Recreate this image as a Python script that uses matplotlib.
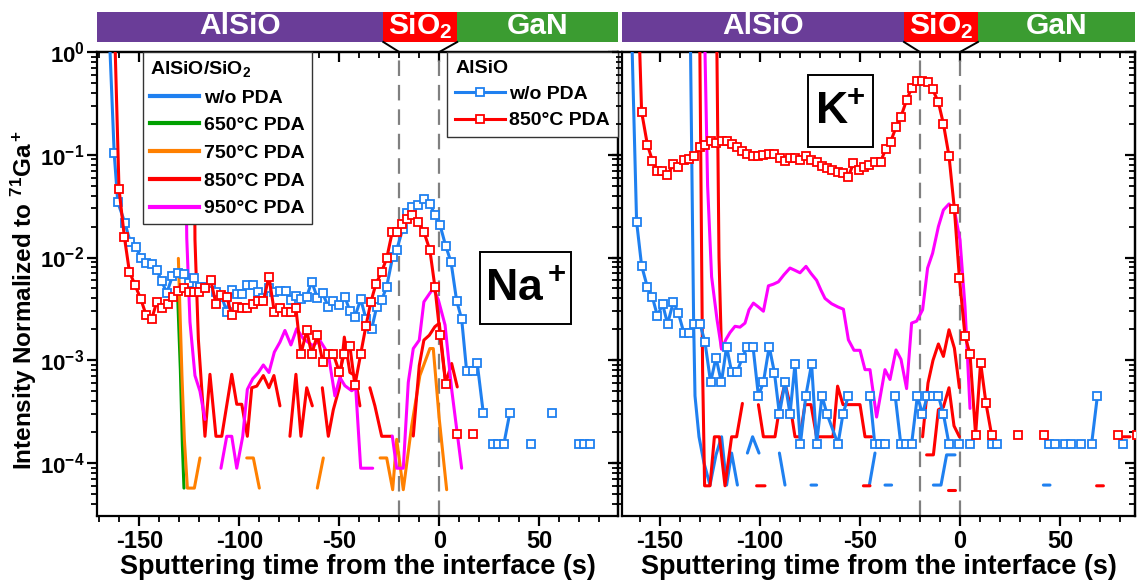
import numpy as np
import matplotlib
matplotlib.use("Agg")
import matplotlib.pyplot as plt
import matplotlib.transforms as mtrans
from matplotlib import font_manager
from matplotlib.lines import Line2D
from matplotlib.patches import Rectangle
from matplotlib.ticker import MultipleLocator, LogLocator, FuncFormatter, NullFormatter, FixedLocator

nan = np.nan

# ---------------- Na+ panel ----------------
# AlSiO, w/o PDA (squares)
na_alsio_wo_t = [-165.3, -162.6, -160.8, -157.2, -154.5, -151.8, -149.3, -146.5, -143.9, -141.3,
                 -138.8, -136.3, -133.5, -130.7, -127.9, -125.2, -122.5, -119.7, -117.2, -114.3,
                 -111.7, -108.8, -106.3, -103.8, -101.3, -98.5, -96.0, -93.3, -90.5, -88.0,
                 -85.2, -82.5, -79.7, -76.7, -74.2, -71.7, -69.2, -66.3, -63.8, -61.0,
                 -58.3, -55.5, -53.0, -50.0, -47.2, -44.7, -42.2, -39.3, -36.7, -33.8,
                 -31.3, -28.8, -26.3, -23.3, -21.3, -18.3, -16.0, -13.5, -10.5, -7.7,
                 -4.7, -2.2, 0.4, 3.2, 5.9, 8.7, 11.2, 13.7, 17.0, 19.0,
                 22.0, 24.5, 27.0, 29.5, 32.3, 35.3, 40.0, 45.9, 51.0, 56.5,
                 63.0, 70.0, 72.5, 75.3]
na_alsio_wo = [2.0, 0.103, 0.0345, 0.0216, 0.014, 0.0127, 0.0100, 0.0088, 0.0086, 0.0075,
               0.0059, 0.0045, 0.0066, 0.0071, 0.0069, 0.0056, 0.0063, 0.0052, 0.0052, 0.0056,
               0.00464, 0.00415, 0.00296, 0.00482, 0.00437, 0.00437, 0.0054, 0.0054, 0.00464, 0.00406,
               0.00501, 0.00464, 0.00471, 0.00471, 0.00385, 0.00424, 0.00391, 0.00415, 0.00582, 0.00406,
               0.00447, 0.00331, 0.00376, 0.00343, 0.00415, 0.0030, 0.00264, 0.00394, 0.00254, 0.00203,
               0.00331, 0.00385, 0.0052, 0.0102, 0.0119, 0.0189, 0.0272, 0.0313, 0.0325, 0.0368,
               0.033, 0.0262, 0.0206, 0.013, 0.009, 0.00378, 0.00252, 0.00078, 0.00078, 0.00093,
               0.000308, nan, 0.000153, 0.000153, 0.000153, 0.000308, nan, 0.000153, nan, 0.000308,
               nan, 0.000153, 0.000153, 0.000153]

# AlSiO, 850C PDA (squares)
na_alsio_850_t = [-162.5, -160.2, -157.5, -155.0, -152.2, -149.3, -146.7, -143.8, -141.3, -138.5,
                  -135.8, -133.3, -130.5, -127.7, -125.2, -122.5, -120.0, -117.2, -114.3, -111.7,
                  -109.2, -106.3, -103.8, -101.3, -98.5, -96.0, -93.0, -90.5, -88.0, -85.2,
                  -82.5, -79.7, -76.7, -74.2, -71.7, -69.2, -66.3, -63.8, -61.0, -58.3,
                  -55.8, -53.0, -50.0, -47.5, -44.7, -42.2, -39.3, -36.7, -34.2, -31.7,
                  -28.8, -26.3, -23.5, -21.0, -18.8, -16.0, -13.5, -10.5, -7.7, -4.7,
                  -2.2, 0.4, 3.2, 5.9, 8.7, 12.7, 16.7]
na_alsio_850 = [2.0, 0.0467, 0.0158, 0.0073, 0.0054, 0.00394, 0.00278, 0.00254, 0.0037, 0.00319,
                0.00356, 0.00415, 0.00471, 0.00508, 0.00464, 0.00464, 0.0046, 0.005, 0.006, 0.00356,
                0.0043, 0.00415, 0.00274, 0.00331, 0.00319, 0.00319, 0.00356, 0.00376, 0.00376, 0.00652,
                0.00296, 0.00319, 0.00296, 0.00296, 0.00319, 0.00115, 0.00195, 0.00115, 0.00175, 0.00097,
                0.00115, 0.00115, 0.00077, 0.00115, 0.00137, 0.00057, 0.00115, 0.00215, 0.0037, 0.00552,
                0.0073, 0.0098, 0.0178, 0.0178, 0.0213, 0.0238, 0.0258, 0.0221, 0.0178, 0.0118,
                0.0052, 0.00176, 0.000587, nan, 0.000192, nan, 0.000192]

# AlSiO/SiO2 stacks (lines only)
na_650_t = [-131.0, -129.5, -128.5, -127.7]
na_650 = [0.005, 0.0008, 0.00015, 5.7e-5]

na_750_t = [-130.5, -128.7, -127.5, -126.0, -122.5, -119.7, -108.0, -96.3, -93.0, -90.0,
            -75.0, -61.0, -58.0, -40.0, -29.6, -26.3, -23.3, -21.3, -18.0, -13.8,
            -9.7, -4.7, -3.0, 0.0, 3.7]
na_750 = [0.0098, 0.0007, 1.7e-4, 5.7e-5, 5.7e-5, 1.12e-4, nan, 1.12e-4, 1.12e-4, 5.7e-5,
          nan, 5.7e-5, 1.12e-4, nan, 1.12e-4, 1.12e-4, 5.5e-5, 1.7e-4, 5.5e-5, 2.3e-4,
          7.1e-4, 0.0013, 0.0013, 2.67e-4, 5.5e-5]

na_850_t = [-122.8, -122.2, -120.5, -117.2, -114.7, -111.7, -108.8, -103.8, -101.3, -98.8,
            -96.0, -93.8, -91.3, -88.0, -85.2, -82.7, -79.7, -77.0, -74.7, -71.7,
            -69.2, -66.3, -63.5, -61.0, -58.5, -55.5, -53.0, -50.0, -47.5, -44.7,
            -42.2, -39.7, -37.0, -34.7, -32.2, -28.8, -26.3, -23.8, -18.0, -13.0,
            -10.0, -7.7, -5.0, -2.2, 0.0, 3.2, 6.2, 9.0]
na_850 = [2.0, 0.015, 0.0016, 1.82e-4, 7.3e-4, 1.82e-4, 1.82e-4, 7.3e-4, 3.73e-4, 3.73e-4,
          1.82e-4, 5.4e-4, 5.6e-4, 7.1e-4, 5.4e-4, 7.1e-4, 3.6e-4, nan, 1.82e-4, 7.3e-4,
          1.82e-4, 5.4e-4, 3.6e-4, nan, 5.4e-4, 1.82e-4, 3.3e-4, 5.4e-4, 0.00168, 7.6e-4,
          7.1e-4, 3.6e-4, nan, 5.4e-4, 3.6e-4, 1.82e-4, 1.82e-4, 1.82e-4, nan, 1.83e-4,
          8.9e-4, 0.00157, 0.00175, 0.00212, 0.00229, 6.0e-4, 9.3e-4, 5.5e-4]

na_950_t = [-127.6, -126.3, -124.7, -122.2, -119.7, -117.2, -113.0, -109.2, -106.3, -103.8,
            -101.3, -98.3, -96.0, -93.3, -90.5, -88.0, -85.2, -82.5, -79.7, -77.2,
            -74.2, -71.3, -68.0, -63.3, -59.7, -55.5, -52.2, -49.7, -47.2, -43.8,
            -41.8, -39.3, -33.3, -28.0, -23.5, -21.3, -18.0, -15.5, -13.0, -10.0,
            -7.7, -4.7, -3.0, -0.5, 2.9, 6.2, 11.2]
na_950 = [2.0, 0.0155, 0.00236, 7.1e-4, 5.0e-4, 2.66e-4, nan, 8.9e-5, 1.82e-4, 1.82e-4,
          8.9e-5, 1.82e-4, 5.2e-4, 6.6e-4, 7.6e-4, 9.0e-4, 7.6e-4, 0.0012, 0.0015, 0.00195,
          0.00141, 0.00203, 0.00162, 0.00139, 0.00156, 0.00115, 4.5e-4, 6.8e-4, 5.65e-4, 5.05e-4,
          5.4e-4, 8.9e-5, 8.9e-5, nan, 1.83e-4, 8.9e-5, 8.9e-5, 6.1e-4, 0.0013, 0.00157,
          0.0037, 0.0045, 0.005, 0.0039, 0.0022, 5.2e-4, 8.9e-5]

# ---------------- K+ panel ----------------
k_alsio_850_t = [-160.6, -159.2, -156.3, -153.8, -151.3, -148.8, -146.3, -143.3, -140.8, -138.0,
                 -135.5, -132.8, -130.0, -127.5, -124.5, -122.0, -119.2, -116.7, -114.2, -111.3,
                 -108.8, -106.3, -103.7, -100.8, -98.3, -95.5, -92.8, -90.0, -87.5, -85.0,
                 -82.5, -80.0, -77.0, -74.5, -71.7, -69.2, -66.3, -63.8, -61.2, -58.3,
                 -55.8, -53.3, -50.5, -47.8, -45.3, -42.5, -39.7, -37.2, -34.7, -32.0,
                 -29.5, -26.7, -24.2, -21.7, -18.8, -16.2, -13.7, -10.8, -8.3, -5.5,
                 -2.8, -0.3, 2.5, 5.0, 7.8, 10.3, 13.0, 15.8, 22.0, 28.8,
                 35.0, 42.0, 60.0, 78.8, 84.0, 88.3]
k_alsio_850 = [2.0, 0.262, 0.125, 0.0877, 0.0696, 0.0696, 0.0636, 0.0808, 0.0767, 0.089,
               0.091, 0.098, 0.12, 0.125, 0.137, 0.129, 0.137, 0.137, 0.127, 0.118,
               0.109, 0.102, 0.098, 0.098, 0.099, 0.102, 0.102, 0.0925, 0.0877, 0.0925,
               0.0925, 0.089, 0.098, 0.089, 0.0857, 0.0783, 0.0738, 0.0711, 0.0674, 0.067,
               0.0612, 0.0826, 0.0711, 0.0767, 0.079, 0.0857, 0.0857, 0.113, 0.134, 0.185,
               0.235, 0.341, 0.443, 0.522, 0.525, 0.507, 0.434, 0.324, 0.2, 0.0973,
               0.0295, 0.0063, 0.00173, 0.00115, 1.88e-4, 9.5e-4, 3.8e-4, 1.88e-4, nan, 1.88e-4,
               nan, 1.88e-4, nan, 1.88e-4, nan, 1.88e-4]

k_alsio_wo_t = [-164.3, -161.7, -159.2, -156.3, -153.8, -151.3, -148.7, -146.2, -143.3, -140.8,
                -138.0, -135.5, -132.8, -130.0, -127.5, -124.7, -122.0, -119.3, -116.7, -114.2,
                -111.5, -108.8, -106.3, -103.5, -100.8, -98.3, -95.4, -92.8, -90.3, -87.5,
                -85.0, -82.5, -79.8, -77.1, -74.2, -71.7, -69.0, -66.5, -61.0, -58.5,
                -55.8, -50.0, -45.0, -42.6, -40.0, -37.4, -35.0, -32.4, -29.6, -26.8,
                -24.2, -21.3, -18.8, -16.3, -13.3, -10.8, -8.3, -5.5, -3.0, -0.3,
                2.5, 5.0, 10.0, 15.8, 18.3, 30.0, 44.7, 47.5, 50.0, 52.5,
                55.3, 58.0, 60.5, 63.0, 65.8, 68.7, 75.0, 81.7]
k_alsio_wo = [2.0, 0.0223, 0.00834, 0.00514, 0.00411, 0.0027, 0.00351, 0.00226, 0.00372, 0.00287,
              0.00183, 0.00183, 0.00226, 0.00226, 0.0015, 6.1e-4, 0.00106, 6.1e-4, 0.00136, 7.7e-4,
              7.7e-4, 0.00106, 0.00136, 0.00136, 4.5e-4, 6.1e-4, 0.00136, 7.6e-4, 3.0e-4, 6.1e-4,
              3.0e-4, 9.2e-4, 1.53e-4, 4.5e-4, 9.2e-4, 1.53e-4, 4.5e-4, 3.0e-4, 1.53e-4, 3.0e-4,
              4.5e-4, nan, 4.5e-4, 1.53e-4, 1.53e-4, 1.53e-4, nan, 4.5e-4, 1.53e-4, 1.53e-4,
              1.53e-4, 4.5e-4, 3.0e-4, 4.5e-4, 4.5e-4, 4.5e-4, 3.0e-4, 1.53e-4, nan, 1.53e-4,
              nan, 1.53e-4, nan, 1.53e-4, 1.53e-4, nan, 1.53e-4, 1.53e-4, nan, 1.53e-4,
              1.53e-4, nan, 1.53e-4, nan, 1.53e-4, 4.5e-4, nan, 1.53e-4]

k_wo_t = [-134.9, -133.2, -132.5, -130.5, -128.0, -125.0, -122.0, -119.2, -116.7, -114.2,
          -111.3, -109.0, -106.3, -103.7, -100.5, -95.0, -90.3, -87.5, -80.0, -74.5,
          -71.7, -60.0, -45.3, -42.5, -40.0, -37.5, -34.2, -20.0, -13.3, -9.5,
          -6.7, -2.5, 20.0, 41.7, 45.0]
k_wo = [2.0, 0.0025, 4.5e-4, 1.8e-4, 1.0e-4, 6.1e-5, 1.2e-4, 1.8e-4, 6.1e-5, 1.25e-4,
        6.1e-5, nan, 1.25e-4, 1.8e-4, 1.25e-4, nan, 1.25e-4, 6.1e-5, nan, 6.1e-5,
        6.1e-5, nan, 6.1e-5, 1.25e-4, nan, 6.1e-5, 6.1e-5, nan, 6.1e-5, 6.1e-5,
        1.2e-4, 1.2e-4, nan, 6.1e-5, 6.1e-5]

k_850_t = [-130.2, -128.7, -127.7, -125.0, -122.8, -120.3, -117.5, -114.2, -111.7, -108.8,
           -105.0, -100.8, -98.3, -92.5, -90.0, -87.5, -85.0, -82.5, -80.0, -77.5,
           -74.5, -71.7, -69.2, -66.5, -63.5, -61.2, -58.5, -55.0, -50.0, -47.5,
           -44.2, -30.0, -18.7, -16.0, -13.5, -10.8, -8.3, -5.5, -2.8, -0.3]
k_850 = [2.0, 8e-4, 6e-5, 6e-5, 1.8e-4, 1.8e-4, 6e-5, 1.8e-4, 1.8e-4, 3.8e-4,
         nan, 3.7e-4, 1.8e-4, 1.8e-4, 3.7e-4, 6e-4, 3.7e-4, 1.8e-4, 1.8e-4, 3.7e-4,
         3.7e-4, 1.8e-4, 1.8e-4, 1.8e-4, 1.8e-4, 5.6e-4, 3.7e-4, 3.7e-4, 3.7e-4, 1.8e-4,
         1.8e-4, nan, 1.8e-4, 6e-4, 0.001, 0.00144, 0.00109, 0.00198, 0.00131, 5.4e-4]

k_850b_t = [-121.7, -120.5, -119.3, -110.0, -101.7, -97.5, -70.0, -48.3, -45.0, -30.0,
            -16.7, -13.3, -10.8, -8.3, -5.5, -3.0, -0.3, 30.0, 68.3, 71.7,
            76.0, 81.7, 85.0]
k_850b = [2.0, 0.01, 0.0013, nan, 6e-5, 6e-5, nan, 6e-5, 6e-5, nan,
          1.2e-4, 1.2e-4, 3.3e-4, 3.5e-4, 5.4e-4, 2.3e-4, 1.8e-4, nan, 6e-5, 6e-5,
          nan, 1.8e-4, 1.8e-4]
k_850c_t = [-5.8, -2.5]
k_850c = [5.5e-5, 5.5e-5]

k_950_t = [-127.8, -126.2, -124.2, -121.5, -119.2, -117.0, -115.0, -112.5, -110.0, -107.5,
           -105.5, -103.3, -100.8, -98.3, -95.8, -93.3, -90.8, -88.0, -85.0, -82.5,
           -80.0, -77.0, -74.5, -71.7, -69.5, -67.5, -64.2, -61.0, -58.3, -55.8,
           -53.0, -50.0, -47.5, -45.0, -41.7, -37.5, -35.0, -32.0, -29.5, -26.7,
           -24.2, -21.7, -18.7, -16.2, -13.7, -10.8, -8.3, -5.5, -2.8, 0.0,
           2.5, 5.0]
k_950 = [2.0, 0.05, 0.0065, 0.0025, 0.00128, 0.0016, 0.00186, 0.00214, 0.0021, 0.0023,
         0.0031, 0.0036, 0.0033, 0.0030, 0.0053, 0.0055, 0.0058, 0.0068, 0.0079, 0.0075,
         0.0071, 0.0082, 0.007, 0.006, 0.0048, 0.004, 0.00355, 0.0033, 0.00314, 0.00158,
         0.00125, 0.00125, 8.1e-4, 8.1e-4, 2.8e-4, 8.1e-4, 6.5e-4, 0.00126, 0.00102, 5.3e-4,
         0.0023, 0.0024, 0.0031, 0.0079, 0.011, 0.02, 0.029, 0.0332, 0.029, 0.0148,
         0.00333, 3.4e-4]

# layer boundaries (s) and labels
band_edges = [-28.0, 9.0]
interfaces = [-20.0, 0.0]
x_ticks = [-150, -100, -50, 0, 50]
x_ticklabels = ['-150', '-100', '-50', '0', '50']

BLUE = '#1f80f0'
RED = '#ff0000'
GREEN = '#00a000'
ORANGE = '#ff8000'
MAGENTA = '#ff00ff'
PURPLE = '#6a3d98'
BAND_GREEN = '#3b9c31'

avail = {f.name for f in font_manager.fontManager.ttflist}
NARROW = 'Liberation Sans Narrow' if 'Liberation Sans Narrow' in avail else 'Liberation Sans'

plt.rcParams['font.family'] = ['Liberation Sans', 'DejaVu Sans']
plt.rcParams['font.weight'] = 'bold'
plt.rcParams['axes.labelweight'] = 'bold'
plt.rcParams['mathtext.fontset'] = 'custom'
plt.rcParams['mathtext.rm'] = NARROW + ':bold'
plt.rcParams['mathtext.bf'] = NARROW + ':bold'
plt.rcParams['mathtext.it'] = NARROW + ':bold'
plt.rcParams['axes.unicode_minus'] = False

W, H = 1137, 583
fig = plt.figure(figsize=(W / 100, H / 100), dpi=100)
axL = fig.add_axes([97 / W, 67 / H, 521 / W, 464 / H])
axR = fig.add_axes([622 / W, 67 / H, 513 / W, 464 / H])

LW = 2.2


def arr(v):
    return np.array(v, dtype=float)


def line(ax, t, y, c):
    ax.plot(arr(t), arr(y), color=c, lw=LW, solid_capstyle='round', zorder=3)


def marks(ax, t, y, c):
    ax.plot(arr(t), arr(y), color=c, lw=LW, marker='s', ms=5.8, mfc='white',
            mec=c, mew=1.3, zorder=4)


# Na panel
line(axL, na_650_t, na_650, GREEN)
line(axL, na_750_t, na_750, ORANGE)
line(axL, na_850_t, na_850, RED)
line(axL, na_950_t, na_950, MAGENTA)
marks(axL, na_alsio_wo_t, na_alsio_wo, BLUE)
marks(axL, na_alsio_850_t, na_alsio_850, RED)

# K panel
line(axR, k_wo_t, k_wo, BLUE)
line(axR, k_850_t, k_850, RED)
line(axR, k_850b_t, k_850b, RED)
line(axR, k_850c_t, k_850c, RED)
line(axR, k_950_t, k_950, MAGENTA)
marks(axR, k_alsio_wo_t, k_alsio_wo, BLUE)
marks(axR, k_alsio_850_t, k_alsio_850, RED)

limsx = {axL: (-171.2, 89.4), axR: (-169.0, 87.5)}
fmt = FuncFormatter(lambda v, p: r'$\mathbf{10^{%d}}$' % round(np.log10(v)))

for ax in (axL, axR):
    ax.set_yscale('log')
    ax.set_ylim(3.05e-5, 1.0)
    ax.set_xlim(*limsx[ax])
    for x in interfaces:
        ax.axvline(x, color='#808080', lw=1.6, ls=(0, (7, 4)), zorder=2)
    for s in ax.spines.values():
        s.set_linewidth(1.6)
    ax.set_xticks(x_ticks, labels=x_ticklabels, fontfamily=NARROW, fontweight='bold')
    ax.xaxis.set_minor_locator(MultipleLocator(10))
    ax.yaxis.set_major_locator(LogLocator(base=10, numticks=10))
    ax.yaxis.set_minor_locator(LogLocator(base=10, subs=np.arange(2, 10), numticks=10))
    ax.yaxis.set_major_formatter(fmt)
    ax.yaxis.set_minor_formatter(NullFormatter())
    ax.tick_params(which='major', direction='out', length=7, width=1.6, labelsize=17, pad=3)
    ax.tick_params(axis='y', which='major', labelsize=16, pad=2)
    ax.tick_params(which='minor', direction='out', length=4, width=1.3)
    ax.set_xlabel('Sputtering time from the interface (s)', fontsize=19.5,
                  fontweight='bold', labelpad=1)

    top = ax.secondary_xaxis('top')
    top.xaxis.set_major_locator(FixedLocator(x_ticks))
    top.xaxis.set_minor_locator(MultipleLocator(10))
    top.xaxis.set_major_formatter(NullFormatter())
    top.tick_params(which='major', direction='in', length=7, width=1.6)
    top.tick_params(which='minor', direction='in', length=4, width=1.3)
    top.spines['top'].set_linewidth(1.6)
    right = ax.secondary_yaxis('right')
    right.yaxis.set_major_locator(LogLocator(base=10, numticks=10))
    right.yaxis.set_minor_locator(LogLocator(base=10, subs=np.arange(2, 10), numticks=10))
    right.yaxis.set_major_formatter(NullFormatter())
    right.yaxis.set_minor_formatter(NullFormatter())
    right.tick_params(which='major', direction='in', length=7, width=1.6)
    right.tick_params(which='minor', direction='in', length=4, width=1.3)
    right.spines['right'].set_linewidth(1.6)

    # layer bands above the axes
    tr = mtrans.blended_transform_factory(ax.transData, ax.transAxes)
    x0, x1 = limsx[ax]
    y0, h = 1.0216, 0.065
    segs = [(x0, band_edges[0], PURPLE, 'AlSiO'),
            (band_edges[0], band_edges[1], RED, 'SiO$_2$'),
            (band_edges[1], x1, BAND_GREEN, 'GaN')]
    for a, b, c, lab in segs:
        ax.add_patch(Rectangle((a, y0), b - a, h, transform=tr, facecolor=c,
                               edgecolor='none', clip_on=False, zorder=5))
        ax.text((a + b) / 2, y0 + h / 2 + 0.003, lab, transform=tr, ha='center',
                va='center', color='white', fontsize=21.5, clip_on=False, zorder=6)
    ax.plot([band_edges[0], interfaces[0]], [y0, 1.0], transform=tr, color='k',
            lw=1.4, clip_on=False, zorder=6)
    ax.plot([band_edges[1], interfaces[1]], [y0, 1.0], transform=tr, color='k',
            lw=1.4, clip_on=False, zorder=6)

axR.tick_params(axis='y', which='both', labelleft=False)

# legends
h1 = [Line2D([], [], color=c, lw=3) for c in (BLUE, GREEN, ORANGE, RED, MAGENTA)]
l1 = ['w/o PDA', '650°C PDA', '750°C PDA', '850°C PDA', '950°C PDA']
leg1 = axL.legend(h1, l1, title='AlSiO/SiO$_2$', loc='upper left',
                  bbox_to_anchor=(0.088, 1.0), borderaxespad=0, fontsize=14,
                  title_fontsize=14, handlelength=2.55, handletextpad=0.25,
                  labelspacing=0.52, borderpad=0.35, fancybox=False, framealpha=1,
                  edgecolor='#333333', alignment='left')
leg1.get_frame().set_linewidth(1.0)
leg1.get_title().set_fontweight('bold')
leg1.set_zorder(10)
axL.add_artist(leg1)

h2 = [Line2D([], [], color=c, lw=LW, marker='s', ms=5.8, mfc='white', mec=c, mew=1.3)
      for c in (BLUE, RED)]
leg2 = axL.legend(h2, ['w/o PDA', '850°C PDA'], title='AlSiO', loc='upper right',
                  bbox_to_anchor=(1.0, 1.0), borderaxespad=0, fontsize=14,
                  title_fontsize=14, handlelength=2.55, handletextpad=0.25,
                  labelspacing=0.45, borderpad=0.4, fancybox=False, framealpha=1,
                  edgecolor='#333333', alignment='left')
leg2.get_frame().set_linewidth(1.0)
leg2.get_title().set_fontweight('bold')
leg2.set_zorder(10)

# ion labels
axL.add_patch(Rectangle((0.735, 0.414), 0.175, 0.155, transform=axL.transAxes,
                        facecolor='white', edgecolor='black', lw=1.4, zorder=8))
axL.text(0.8225, 0.488, 'Na$^+$', transform=axL.transAxes, ha='center', va='center',
         fontsize=32, zorder=9)
axR.add_patch(Rectangle((0.3626, 0.795), 0.1267, 0.155, transform=axR.transAxes,
                        facecolor='white', edgecolor='black', lw=1.4, zorder=8))
axR.text(0.426, 0.870, r'K$\!^+$', transform=axR.transAxes, ha='center', va='center',
         fontsize=32, zorder=9)

fig.text(0.021, 0.485, 'Intensity Normalized to $^{71}$Ga$^+$', rotation=90,
         ha='center', va='center', fontsize=17.5)

fig.savefig('out.png', dpi=100)
